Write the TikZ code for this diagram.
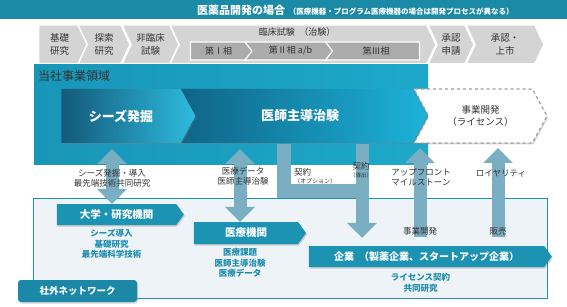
\documentclass[tikz,border=0pt]{standalone}
\usepackage{fontspec}
\setmainfont{Noto Sans CJK JP}
\usetikzlibrary{arrows.meta,positioning,shapes.symbols,shadows}
\definecolor{barcol}{HTML}{1B8AA6}
\definecolor{stepgray}{HTML}{D4D4D4}
\definecolor{phasegray}{HTML}{ABABAB}
\definecolor{areaL}{HTML}{1896B8}
\definecolor{areaR}{HTML}{1DA8C9}
\definecolor{seedL}{HTML}{14597A}
\definecolor{seedR}{HTML}{2DBCDF}
\definecolor{trialL}{HTML}{0E6284}
\definecolor{trialR}{HTML}{1DB2DA}
\definecolor{boxteal}{HTML}{1C93B3}
\definecolor{tabcol}{HTML}{1A88A6}
\definecolor{arrcol}{HTML}{7AAEC3}
\definecolor{netfill}{HTML}{EEF3F7}
\definecolor{txtteal}{HTML}{1E8DAE}
\definecolor{txtdark}{HTML}{333333}
\newcommand\jlp{\hspace{0.5em}^^^^ff08}

\begin{document}
\begin{tikzpicture}[x=1pt,y=-1pt,
  font=\fontsize{8.5}{10}\selectfont,
  stepbox/.style={signal,signal to=east,signal from=west,signal pointer angle=130,
    fill=stepgray,draw=white,line width=1.5pt,minimum height=39pt,inner sep=0pt,
    align=center,text=txtdark,font=\fontsize{9.5}{12.5}\selectfont},
  phasebox/.style={signal,signal to=east,signal from=west,signal pointer angle=105,
    fill=phasegray,draw=white,line width=1.2pt,minimum height=18pt,inner sep=0pt,
    text=txtdark,font=\fontsize{9}{10}\selectfont},
  bigchev/.style={signal,signal to=east,signal from=west,signal pointer angle=123,
    minimum height=54pt,inner sep=0pt,align=center,text=white,
    font=\bfseries\fontsize{13}{15}\selectfont,
    drop shadow={opacity=0.35,shadow xshift=1pt,shadow yshift=-1.5pt}},
  netbox/.style={signal,signal to=east,signal from=nowhere,signal pointer angle=108,
    fill=boxteal,inner sep=0pt,text=white,font=\bfseries\fontsize{10.5}{12}\selectfont,
    drop shadow={opacity=0.35,shadow xshift=1pt,shadow yshift=-1.5pt}},
  lbl/.style={align=center,text=txtdark,inner sep=1pt},
  teallbl/.style={align=center,text=txtteal,inner sep=0pt,
    font=\bfseries\fontsize{8.5}{10.5}\selectfont},
  dbl/.style={draw=arrcol,line width=13pt,
    {Triangle[length=15pt,width=29pt]}-{Triangle[length=15pt,width=29pt]}},
  sgl/.style={draw=arrcol,line width=13pt,-{Triangle[length=15pt,width=29pt]}},
  barline/.style={draw=arrcol,line width=14pt},
]
\useasboundingbox (0,0) rectangle (567,307);

% title bar
\node[fill=barcol,minimum width=567pt,minimum height=19pt,anchor=north west,inner sep=0pt] (bar) at (0,0) {};
\node[anchor=west,text=white,font=\bfseries\fontsize{11}{12}\selectfont,inner sep=0pt] (title) at (197,10)
  {医薬品開発の場合{\fontsize{7.5}{9}\selectfont\jlp 医療機器・プログラム医療機器の場合は開発プロセスが異なる^^^^ff09}};

% development steps
\node[stepbox,signal from=nowhere,minimum width=51pt] (basic) at (59.5,44.5) {基礎\\研究};
\node[stepbox,minimum width=52pt] (explore) at (104,44.5) {探索\\研究};
\node[stepbox,minimum width=57pt] (preclin) at (150.5,44.5) {非臨床\\試験};
\node[stepbox,minimum width=266pt] (clin) at (303,44.5) {};
\node[stepbox,minimum width=46pt] (apply) at (451,44.5) {承認\\申請};
\node[stepbox,minimum width=78pt] (launch) at (505,44.5) {承認・\\上市};
\node[lbl,font=\fontsize{9}{10}\selectfont] (clinlbl) at (297,32.5) {臨床試験\jlp 治験^^^^ff09};

\node[phasebox,signal from=nowhere,minimum width=63pt] (ph1) at (218.5,51) {第Ⅰ相};
\node[phasebox,minimum width=91pt] (ph2) at (290.5,51) {第Ⅱ相 a/b};
\node[phasebox,signal to=nowhere,minimum width=94pt] (ph3) at (376,51) {第Ⅲ相};

% own business area
\node[left color=areaL,right color=areaR,minimum width=394pt,minimum height=100pt,
      anchor=north west,inner sep=0pt] (area) at (34,64) {};
\node[anchor=west,text=txtdark,font=\fontsize{12}{13}\selectfont,inner sep=0pt] (arealbl) at (38,76) {当社事業領域};

\node[bigchev,fill=white,draw=gray!75,dashed,line width=1.2pt,text=txtdark,
      font=\fontsize{9.5}{12}\selectfont,minimum width=133pt] (license) at (480.5,116)
  {事業開発\\^^^^ff08ライセンス^^^^ff09};
\node[bigchev,left color=trialL,right color=trialR,minimum width=254pt] (trial) at (300,116) {医師主導治験};
\node[bigchev,signal from=nowhere,left color=seedL,right color=seedR,minimum width=134pt] (seeds) at (121,116) {シーズ発掘};

% external network
\node[draw=boxteal,line width=1.2pt,fill=netfill,minimum width=514pt,minimum height=100pt,
      anchor=north west,inner sep=0pt] (net) at (33,198) {};

\node[netbox,minimum width=127pt,minimum height=21pt] (univ) at (116.5,214.5) {大学・研究機関};
\node[netbox,minimum width=112pt,minimum height=22pt] (hosp) at (246,233) {医療機関};
\node[netbox,minimum width=243pt,minimum height=21pt,font=\bfseries\fontsize{10}{12}\selectfont] (corp) at (426.5,256.5)
  {企業\jlp 製薬企業、スタートアップ企業^^^^ff09};

% arrows
\coordinate (a1) at (112,149);
\coordinate (a2) at (240,149);
\coordinate (opt) at (284,144);
\coordinate (lic) at (362,144);
\coordinate (up1) at (420,148);
\coordinate (up2) at (498,148);

\draw[dbl] (univ.north -| a1) -- (a1);
\draw[dbl] (hosp.north -| a2) -- (a2);
\draw[barline] (opt) -- ++(0,47) -- ++(85,0);
\draw[sgl] (lic) -- ([yshift=8pt]corp.north -| lic);
\draw[sgl] ([yshift=9pt]corp.north -| up1) -- (up1);
\draw[sgl] ([yshift=9pt]corp.north -| up2) -- (up2);

% labels
\node[lbl] (seedslbl) at (112,178) {シーズ発掘・導入\\最先端技術共同研究};
\node[lbl] (datalbl) at (243,176) {医療データ\\医師主導治験};
\node[lbl,anchor=west,align=left] (optlbl) at (293,176) {契約\\[-2pt]{\fontsize{6}{7}\selectfont^^^^ff08オプション^^^^ff09}};
\node[lbl] (outlbl) at (361,170) {契約\\[-2pt]{\fontsize{5.5}{6}\selectfont^^^^ff08導出^^^^ff09}};
\node[lbl] (uplbl) at (421,177) {アップフロント\\マイルストーン};
\node[lbl] (roylbl) at (501,173) {ロイヤリティ};
\node[lbl] (bizlbl) at (420,231) {事業開発};
\node[lbl] (salelbl) at (498,231) {販売};

\node[teallbl,below=4pt of univ,xshift=-5pt] (univtxt) {シーズ導入\\基礎研究\\最先端科学技術};
\node[teallbl,below=4pt of hosp,xshift=-6pt] (hosptxt) {医療課題\\医師主導治験\\医療データ};
\node[teallbl,below=6pt of corp,xshift=-6pt] (corptxt) {ライセンス契約\\共同研究};

\node[fill=tabcol,rounded corners=3pt,minimum width=119pt,minimum height=22pt,text=white,
      font=\bfseries\fontsize{9.5}{11}\selectfont,inner sep=0pt,
      drop shadow={opacity=0.35,shadow xshift=1pt,shadow yshift=-1.5pt}] (tab) at (77.5,291) {社外ネットワーク};
\end{tikzpicture}
\end{document}
